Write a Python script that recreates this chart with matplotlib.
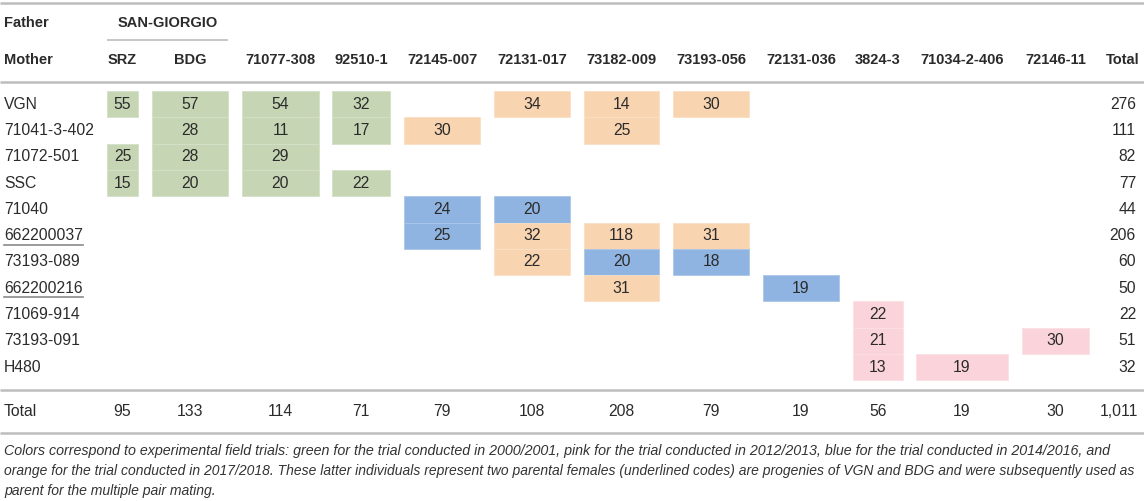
import matplotlib.pyplot as plt
from matplotlib.patches import Rectangle
from matplotlib.colors import to_rgb

plt.rcParams['font.family'] = ['Liberation Sans', 'DejaVu Sans']

# Table content
fathers = ["SRZ", "BDG", "71077-308", "92510-1", "72145-007", "72131-017",
           "73182-009", "73193-056", "72131-036", "3824-3", "71034-2-406", "72146-11"]
mothers = ["VGN", "71041-3-402", "71072-501", "SSC", "71040", "662200037",
           "73193-089", "662200216", "71069-914", "73193-091", "H480"]
underlined = ["662200037", "662200216"]

# number of progenies per cross (None = no cross)
counts = [
    [55, 57, 54, 32, None, 34, 14, 30, None, None, None, None],
    [None, 28, 11, 17, 30, None, 25, None, None, None, None, None],
    [25, 28, 29, None, None, None, None, None, None, None, None, None],
    [15, 20, 20, 22, None, None, None, None, None, None, None, None],
    [None, None, None, None, 24, 20, None, None, None, None, None, None],
    [None, None, None, None, 25, 32, 118, 31, None, None, None, None],
    [None, None, None, None, None, 22, 20, 18, None, None, None, None],
    [None, None, None, None, None, None, 31, None, 19, None, None, None],
    [None, None, None, None, None, None, None, None, None, 22, None, None],
    [None, None, None, None, None, None, None, None, None, 21, None, 30],
    [None, None, None, None, None, None, None, None, None, 13, 19, None],
]
# field trial per cross: g=2000/2001, p=2012/2013, b=2014/2016, o=2017/2018
trials = [
    "gggg.ooo....",
    ".gggo.o.....",
    "ggg.........",
    "gggg........",
    "....bb......",
    "....booo....",
    ".....obb....",
    "......o.b...",
    ".........p..",
    ".........p.p",
    ".........pp.",
]
row_totals = ["276", "111", "82", "77", "44", "206", "60", "50", "22", "51", "32"]
col_totals = ["95", "133", "114", "71", "79", "108", "208", "79", "19", "56", "19", "30"]
grand_total = "1,011"

caption_lines = [
    "Colors correspond to experimental field trials: green for the trial conducted in 2000/2001, "
    "pink for the trial conducted in 2012/2013, blue for the trial conducted in 2014/2016, and",
    "orange for the trial conducted in 2017/2018. These latter individuals represent two parental "
    "females (underlined codes) are progenies of VGN and BDG and were subsequently used as",
    "parent for the multiple pair mating.",
]
caption_sizes = [10.3, 10.0, 10.1]

trial_colors = {"g": "#c6d6b4", "p": "#fad4da", "b": "#8fb4e1", "o": "#f8d4b0"}

# layout (pixel grid)
col_left = [107, 152, 242, 332, 404, 494, 584, 673, 763, 853, 916, 1022]
col_right = [138, 228, 319, 390, 480, 570, 659, 749, 839, 903, 1008, 1089]
body_top = 91
row_h = 26.3
line_col = "#bdbdbd"
txt_col = "#2b2b2b"
body_fs = 11.3
head_fs = 10.5

fig = plt.figure(figsize=(11.44, 5.01), dpi=100)
ax = fig.add_axes([0, 0, 1, 1])
ax.set_xlim(0, 1144)
ax.set_ylim(501, 0)
ax.axis("off")

# horizontal rules
for y in [3, 82, 390, 433]:
    ax.plot([0, 1144], [y, y], color=line_col, lw=1.8, solid_capstyle="butt")
ax.plot([107, 228], [40, 40], color=line_col, lw=1.2, solid_capstyle="butt")

# header
ax.text(4, 23, "Father", ha="left", va="center", fontsize=head_fs, fontweight="bold", color=txt_col)
ax.text((107 + 228) / 2, 23, "SAN-GIORGIO", ha="center", va="center", fontsize=head_fs,
        fontweight="bold", color=txt_col)
ax.text(4, 60, "Mother", ha="left", va="center", fontsize=head_fs, fontweight="bold", color=txt_col)
for j, name in enumerate(fathers):
    ax.text((col_left[j] + col_right[j]) / 2, 60, name, ha="center", va="center",
            fontsize=head_fs, fontweight="bold", color=txt_col)
ax.text(1139, 60, "Total", ha="right", va="center", fontsize=head_fs, fontweight="bold", color=txt_col)

# body
fig.canvas.draw()
renderer = fig.canvas.get_renderer()
for i, mother in enumerate(mothers):
    top = body_top + i * row_h
    yc = top + row_h / 2
    t = ax.text(4, yc, mother, ha="left", va="center", fontsize=body_fs, color=txt_col)
    if mother in underlined:
        bb = t.get_window_extent(renderer).transformed(ax.transData.inverted())
        ax.plot([bb.x0, bb.x1], [yc + 9, yc + 9], color="#8a8a8a", lw=1.2)
    for j, val in enumerate(counts[i]):
        if val is None:
            continue
        fc = to_rgb(trial_colors[trials[i][j]])
        ec = tuple(c + (1 - c) * 0.25 for c in fc)
        ax.add_patch(Rectangle((col_left[j], top), col_right[j] - col_left[j], row_h,
                               facecolor=fc, edgecolor=ec, lw=0.6))
        ax.text((col_left[j] + col_right[j]) / 2, yc, str(val), ha="center", va="center",
                fontsize=body_fs, color=txt_col)
    ax.text(1136, yc, row_totals[i], ha="right", va="center", fontsize=body_fs, color=txt_col)

# totals row
ax.text(4, 412, "Total", ha="left", va="center", fontsize=body_fs, color=txt_col)
for j, tot in enumerate(col_totals):
    ax.text((col_left[j] + col_right[j]) / 2, 412, tot, ha="center", va="center",
            fontsize=body_fs, color=txt_col)
ax.text(1138, 412, grand_total, ha="right", va="center", fontsize=body_fs, color=txt_col)

# caption
for k, line in enumerate(caption_lines):
    ax.text(4, 451 + 20 * k, line, ha="left", va="center", fontsize=caption_sizes[k],
            style="italic", color="#333333")

fig.savefig("out.png", dpi=100)
